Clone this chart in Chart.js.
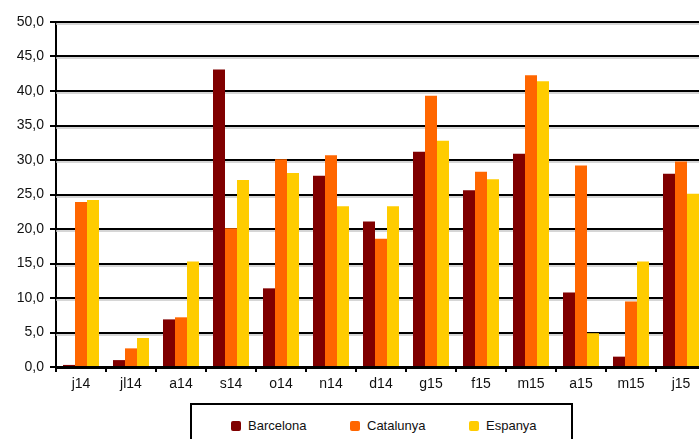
<!DOCTYPE html>
<html>
<head>
<meta charset="utf-8">
<script src="https://cdn.jsdelivr.net/npm/chart.js@4.4.0/dist/chart.umd.min.js"></script>
<style>
  html, body { margin: 0; padding: 0; background: #fff; overflow: hidden; }
  #wrap { position: relative; width: 699px; height: 439px; overflow: hidden; }
  #chart { position: absolute; left: 0; top: 0; }
  #legend {
    position: absolute; left: 190px; top: 403px; width: 379px; height: 40px;
    border: 2px solid #000; box-sizing: content-box;
    font-family: "Liberation Sans", Arial, sans-serif; font-size: 13px; color: #111;
  }
  .item { position: absolute; top: 13px; display: flex; align-items: center; }
  .swatch { width: 10px; height: 10px; border-radius: 2px; margin-right: 7px; }
</style>
</head>
<body>
<div id="wrap">
  <canvas id="chart" width="708" height="400"></canvas>
  <div id="legend"></div>
</div>
<script>
(function () {
  "use strict";

  var months = ["j14", "jl14", "a14", "s14", "o14", "n14", "d14", "g15", "f15", "m15", "a15", "m15", "j15"];
  var barcelona = [0.3, 1.0, 6.9, 43.1, 11.4, 27.7, 21.1, 31.2, 25.6, 30.9, 10.8, 1.5, 28.0];
  var catalunya = [23.9, 2.7, 7.2, 20.1, 30.1, 30.7, 18.6, 39.3, 28.3, 42.3, 29.2, 9.5, 29.8];
  var espanya = [24.2, 4.2, 15.3, 27.1, 28.1, 23.3, 23.3, 32.8, 27.2, 41.4, 4.9, 15.3, 25.1];
  var seriesNames = ["Barcelona", "Catalunya", "Espanya"];
  var seriesColors = ["#800000", "#ff6600", "#ffcc00"];

  var FONT = { family: "'Liberation Sans', Arial, sans-serif", size: 14 };

  // grey shadow under each horizontal grid line, like the original
  var gridShadow = {
    id: "gridShadow",
    beforeDatasetsDraw: function (chart) {
      var y = chart.scales.y, area = chart.chartArea, ctx = chart.ctx;
      ctx.save();
      ctx.strokeStyle = "#c8c8c8";
      ctx.lineWidth = 1.5;
      y.ticks.forEach(function (t) {
        if (t.value === 0) return;
        var py = Math.round(y.getPixelForValue(t.value)) + 2;
        ctx.beginPath();
        ctx.moveTo(area.left, py);
        ctx.lineTo(area.right, py);
        ctx.stroke();
      });
      ctx.restore();
    }
  };

  var datasets = [barcelona, catalunya, espanya].map(function (vals, i) {
    return {
      label: seriesNames[i],
      data: vals,
      backgroundColor: seriesColors[i],
      borderWidth: 0,
      barPercentage: 1.0,
      categoryPercentage: 0.72
    };
  });

  new Chart(document.getElementById("chart"), {
    type: "bar",
    data: { labels: months, datasets: datasets },
    plugins: [gridShadow],
    options: {
      responsive: false,
      animation: false,
      layout: { padding: { top: 22, right: 2, left: 0, bottom: 0 } },
      plugins: { legend: { display: false }, tooltip: { enabled: false } },
      scales: {
        x: {
          grid: { drawOnChartArea: false, drawTicks: true, tickLength: 5, color: "#000", lineWidth: 2 },
          border: { color: "#000", width: 3 },
          ticks: { color: "#111", font: FONT, padding: 4, maxRotation: 0, autoSkip: false },
          afterFit: function (s) { s.height = 33; }
        },
        y: {
          min: 0,
          max: 50,
          ticks: {
            stepSize: 5,
            color: "#111",
            font: FONT,
            padding: 6,
            callback: function (v) { return v.toFixed(1).replace(".", ","); }
          },
          grid: { color: "#000", lineWidth: 2, tickLength: 6 },
          border: { color: "#000", width: 2 },
          afterFit: function (s) { s.width = 56; }
        }
      }
    }
  });

  var legend = document.getElementById("legend");
  seriesNames.forEach(function (name, i) {
    var item = document.createElement("div");
    item.className = "item";
    item.style.left = (39 + i * 119) + "px";
    var sw = document.createElement("span");
    sw.className = "swatch";
    sw.style.background = seriesColors[i];
    var tx = document.createElement("span");
    tx.textContent = name;
    item.appendChild(sw);
    item.appendChild(tx);
    legend.appendChild(item);
  });
})();
</script>
</body>
</html>
